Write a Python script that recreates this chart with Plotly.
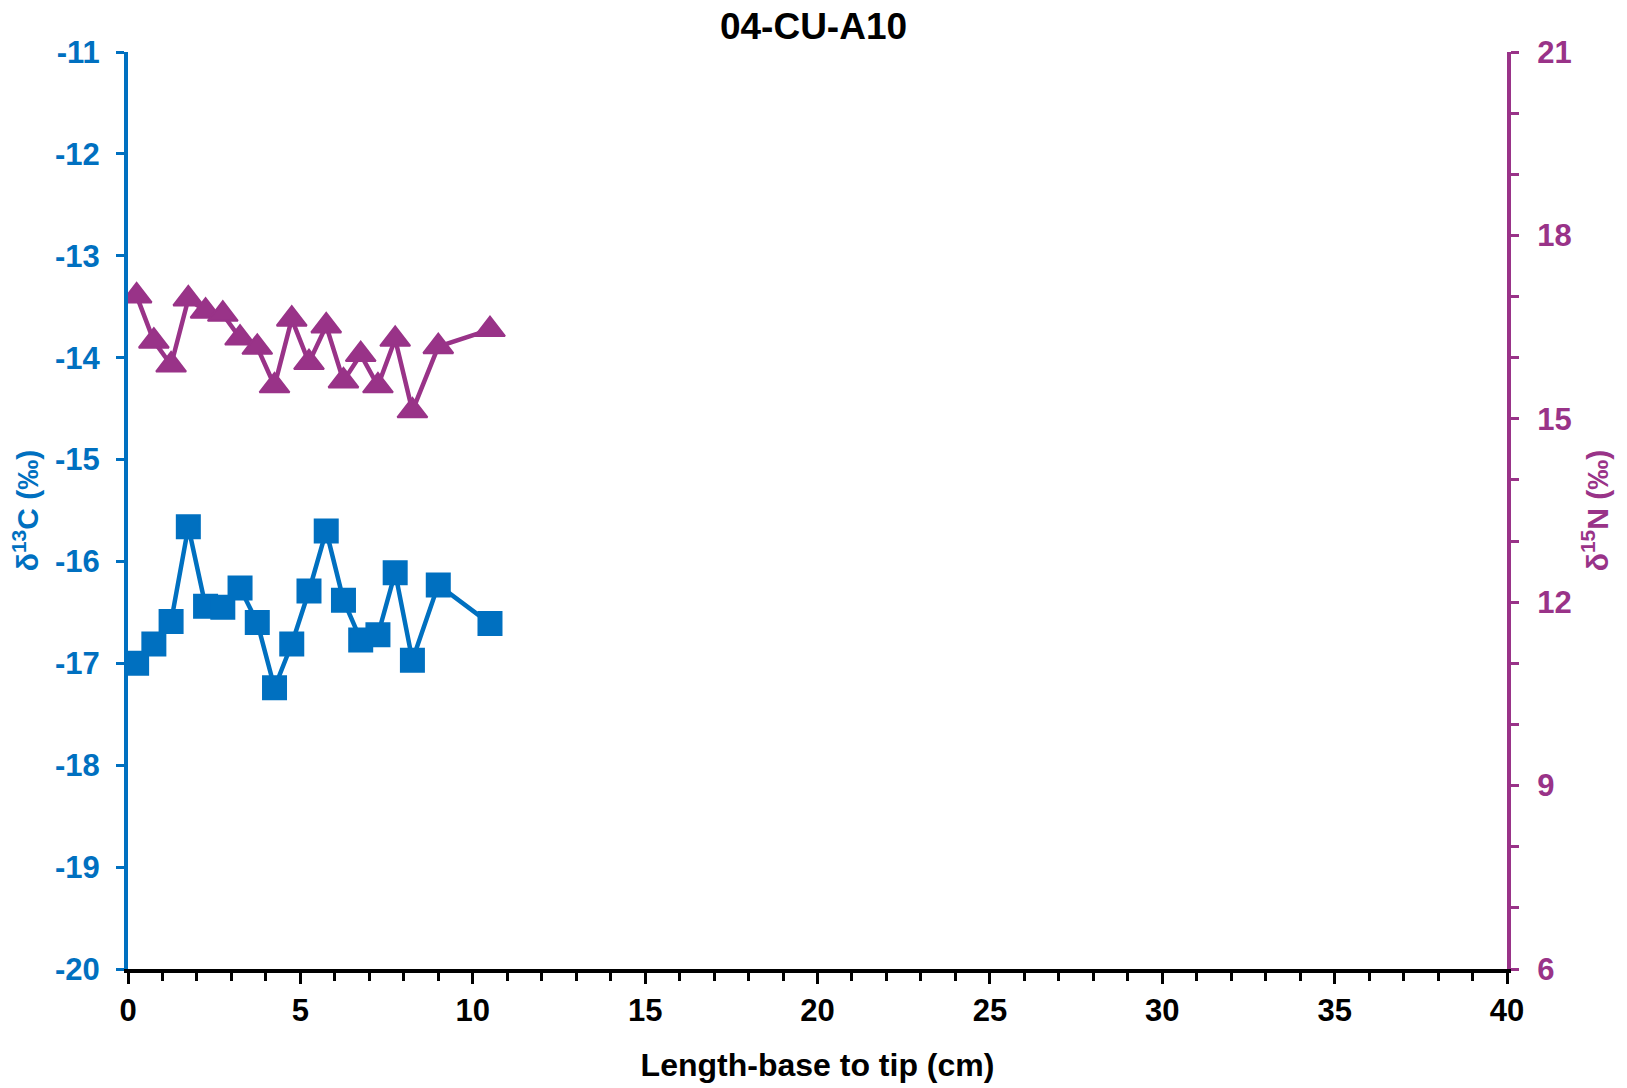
import plotly.graph_objects as go

# Sampling positions along the specimen (cm from base)
length_cm = [0.25, 0.75, 1.25, 1.75, 2.25, 2.75, 3.25, 3.75, 4.25, 4.75,
             5.25, 5.75, 6.25, 6.75, 7.25, 7.75, 8.25, 9.0, 10.5]

# Carbon isotope values (‰)
d13c = [-17.00, -16.81, -16.59, -15.66, -16.44, -16.45, -16.26, -16.60, -17.24, -16.81,
        -16.29, -15.70, -16.38, -16.77, -16.72, -16.11, -16.97, -16.23, -16.61]

# Nitrogen isotope values (‰)
d15n = [17.01, 16.27, 15.88, 16.96, 16.76, 16.71, 16.32, 16.17, 15.54, 16.63,
        15.92, 16.52, 15.62, 16.05, 15.54, 16.30, 15.13, 16.18, 16.46]

# Left-axis tick values, labelled with a plain hyphen
d13c_ticks = [-20, -19, -18, -17, -16, -15, -14, -13, -12, -11]

BLUE = "#0070C0"
PURPLE = "#993388"
FONT = "Liberation Sans, Arial, sans-serif"

fig = go.Figure()

fig.add_trace(go.Scatter(
    x=length_cm, y=d13c, mode="lines+markers", name="δ13C",
    line=dict(color=BLUE, width=4.5),
    marker=dict(symbol="square", size=23, color=BLUE, line=dict(color=BLUE, width=2)),
    yaxis="y",
))

fig.add_trace(go.Scatter(
    x=length_cm, y=d15n, mode="lines+markers", name="δ15N",
    line=dict(color=PURPLE, width=4.5),
    marker=dict(symbol="triangle-up", size=26, color=PURPLE, line=dict(color=PURPLE, width=2)),
    yaxis="y2",
))

fig.update_layout(
    width=1627, height=1088,
    margin=dict(l=128, r=120, t=52, b=119),
    paper_bgcolor="white", plot_bgcolor="white",
    showlegend=False,
    font=dict(family=FONT, size=31, color="black", weight="bold"),
    title=dict(
        text="04-CU-A10", x=0.5, xref="container", y=1 - 26 / 1088, yref="container",
        xanchor="center", yanchor="middle",
        font=dict(family=FONT, size=37, color="black", weight="bold"),
    ),
    xaxis=dict(
        range=[0, 40], dtick=5, tick0=0, automargin=False,
        showline=True, linecolor="black", linewidth=4,
        ticks="outside", ticklen=11, tickwidth=3, tickcolor="black",
        minor=dict(ticks="outside", dtick=1, ticklen=8, tickwidth=3, tickcolor="black"),
        showgrid=False, zeroline=False,
        tickfont=dict(family=FONT, size=31, color="black", weight="bold"),
        title=dict(text="Length-base to tip (cm)", standoff=27,
                   font=dict(family=FONT, size=32, color="black", weight="bold")),
    ),
    yaxis=dict(
        range=[-20, -11], automargin=False,
        tickvals=d13c_ticks, ticktext=[str(v) for v in d13c_ticks],
        showline=True, linecolor=BLUE, linewidth=4,
        ticks="outside", ticklen=8, tickwidth=3, tickcolor=BLUE,
        ticklabelstandoff=10,
        showgrid=False, zeroline=False,
        tickfont=dict(family=FONT, size=31, color=BLUE, weight="bold"),
        title=dict(text="δ<sup>13</sup>C (‰)", standoff=8,
                   font=dict(family=FONT, size=30, color=BLUE, weight="bold")),
    ),
    yaxis2=dict(
        range=[6, 21], dtick=3, tick0=0, overlaying="y", side="right", automargin=False,
        showline=True, linecolor=PURPLE, linewidth=4,
        ticks="outside", ticklen=8, tickwidth=3, tickcolor=PURPLE,
        ticklabelstandoff=12,
        minor=dict(ticks="outside", dtick=1, ticklen=8, tickwidth=3, tickcolor=PURPLE),
        showgrid=False, zeroline=False,
        tickfont=dict(family=FONT, size=31, color=PURPLE, weight="bold"),
        title=dict(text="δ<sup>15</sup>N (‰)", standoff=17,
                   font=dict(family=FONT, size=30, color=PURPLE, weight="bold")),
    ),
)

fig.write_html("out.html")
